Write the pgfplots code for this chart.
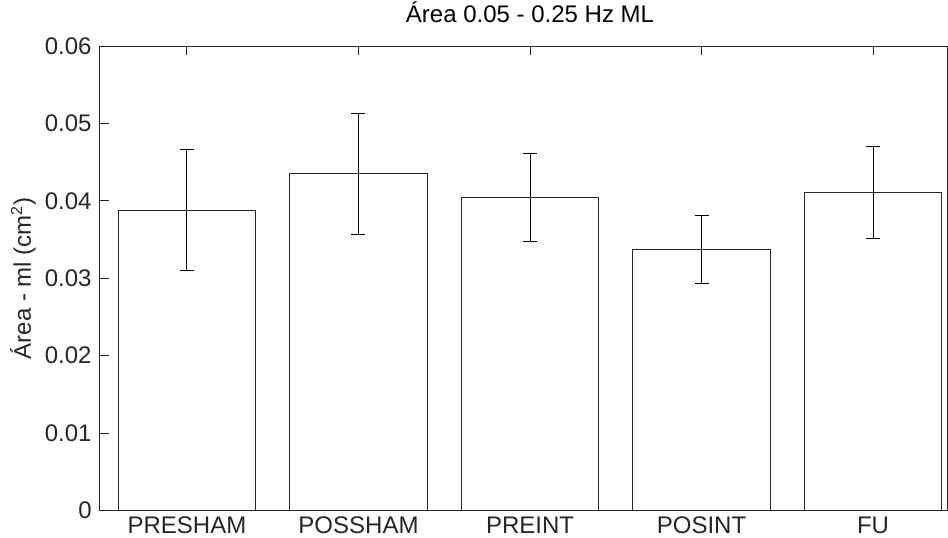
\documentclass[border=0pt]{standalone}
\usepackage{fontspec}
\setmainfont{Liberation Sans}
\usepackage{pgfplots}
\pgfplotsset{compat=1.18}
\definecolor{axgray}{gray}{0.15}
\begin{document}
\begin{tikzpicture}
\begin{axis}[
  at={(0,0)}, anchor=south west,
  scale only axis, width=423.5pt, height=232.25pt,
  ybar, bar width=0.8,
  xmin=0.493, xmax=5.431, ymin=0, ymax=0.06,
  xtick={1,2,3,4,5},
  xticklabels={PRESHAM,POSSHAM,PREINT,POSINT,FU},
  xtick pos=upper, xticklabel pos=lower,
  ytick={0,0.01,0.02,0.03,0.04,0.05,0.06},
  ytick pos=left,
  tick align=inside, major tick length=4.5pt,
  scaled y ticks=false,
  axis line style={axgray, line width=0.5pt},
  tick style={axgray, line width=0.5pt},
  ticklabel style={font=\fontsize{12}{14}\selectfont, text=axgray},
  yticklabel style={/pgf/number format/fixed, /pgf/number format/precision=2,
    /pgf/number format/assume math mode=true, inner sep=0pt, xshift=-4pt},
  xticklabel style={inner sep=0pt, anchor=base, yshift=-11.25pt},
  title={Área 0.05 - 0.25 Hz ML},
  title style={font=\fontsize{12}{14}\selectfont, text=black, at={(0.5,1)}, anchor=base, yshift=6pt, xshift=3.25pt},
  ylabel={Área - ml (cm\textsuperscript{2})},
  ylabel style={font=\fontsize{12}{14}\selectfont, text=axgray, at={(0,0.5)}, anchor=center, yshift=38.5pt},
]
\addplot[draw=axgray, fill=white, line width=0.5pt,
  error bars/.cd, y dir=both, y explicit,
  error bar style={black, line width=0.5pt},
  error mark options={rotate=90, mark size=3.5pt, black, line width=0.5pt}]
  coordinates {
    (1,0.0388) +- (0,0.0078)
    (2,0.0435) +- (0,0.0078)
    (3,0.0404) +- (0,0.0057)
    (4,0.0337) +- (0,0.0044)
    (5,0.0411) +- (0,0.0059)
  };
\end{axis}
\pgfresetboundingbox
\path[use as bounding box] (-50pt,-13.25pt) rectangle (424pt,255.25pt);
\end{tikzpicture}
\end{document}
